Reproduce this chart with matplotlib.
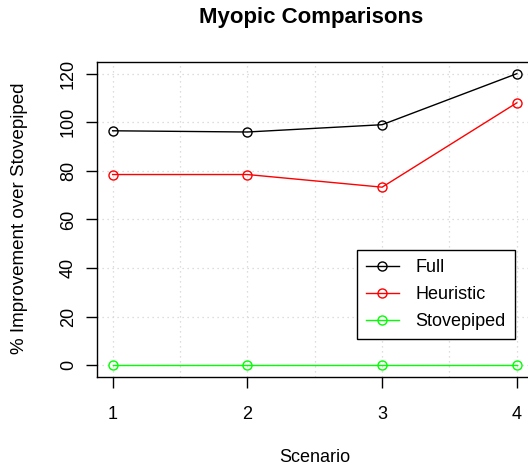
import numpy as np
import matplotlib
matplotlib.use('Agg')
import matplotlib.pyplot as plt

plt.rcParams['font.family'] = ['Liberation Sans', 'DejaVu Sans']

scenarios = [1, 2, 3, 4]
full = [96.5, 96.0, 99.0, 120.0]
heuristic = [78.5, 78.5, 73.3, 108.0]
stovepiped = [0.0, 0.0, 0.0, 0.0]

W, H = 528, 467
fig = plt.figure(figsize=(W / 100, H / 100), dpi=100)
# plot box, in pixels: left 96.5, right ~533 (cut off), top 62, bottom 377
ax = fig.add_axes([96.5 / W, 1 - 377 / H, (533 - 96.5) / W, (377 - 62) / H])

ax.set_xlim(0.88, 4.12)
ax.set_ylim(-4.8, 124.8)

for xv in np.arange(1, 4.01, 0.5):
    ax.axvline(xv, color='#d3d3d3', lw=0.9, ls=(0, (1, 3)), zorder=0)
for yv in range(0, 121, 20):
    ax.axhline(yv, color='#d3d3d3', lw=0.9, ls=(0, (1, 3)), zorder=0)

mk = dict(marker='o', mfc='none', ms=6.5, mew=1.0, lw=1.0)
ax.plot(scenarios, full, color='black', label='Full', **mk)
ax.plot(scenarios, heuristic, color='red', label='Heuristic', **mk)
ax.plot(scenarios, stovepiped, color='#00ff00', label='Stovepiped', **mk)

ax.set_xticks(scenarios)
ax.set_yticks(range(0, 121, 20))
ax.tick_params(axis='both', length=8, width=1, labelsize=13, color='black')
ax.tick_params(axis='x', pad=13)
ax.tick_params(axis='y', pad=6)
for lab in ax.get_yticklabels():
    lab.set_rotation(90)
    lab.set_va('center')
for sp in ax.spines.values():
    sp.set_linewidth(1.0)

fig.text(311 / W, 1 - 18 / H, 'Myopic Comparisons', ha='center', va='center',
         fontsize=16, fontweight='bold')
fig.text(315 / W, 1 - 458 / H, 'Scenario', ha='center', va='center', fontsize=13)
fig.text(20 / W, 1 - 218 / H, '% Improvement over Stovepiped', ha='center',
         va='center', rotation=90, fontsize=13.5)

leg = ax.legend(loc='upper left', bbox_to_anchor=(357 / W, 1 - 250 / H),
                bbox_transform=fig.transFigure, fontsize=13, fancybox=False,
                framealpha=1, edgecolor='black', borderpad=0.5,
                handlelength=1.8, handletextpad=0.95, labelspacing=0.55,
                borderaxespad=0)
leg.get_frame().set_linewidth(1.0)

fig.savefig('out.png', dpi=100)
